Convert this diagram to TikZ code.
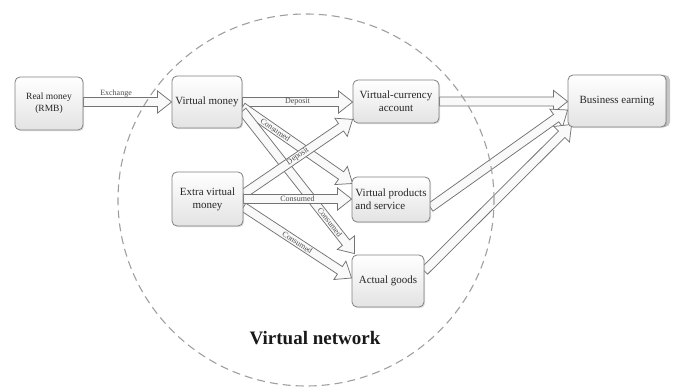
\documentclass[tikz,border=0pt]{standalone}
\usepackage{fontspec}
\setmainfont{Liberation Serif}
\usetikzlibrary{calc,shadows,backgrounds}
\newcommand\ashaft{4.5pt}
\newcommand\awing{11pt}
\newcommand\ahead{14pt}
\newcommand\blockarr[2]{%
  \filldraw[arrowbox] ($(#1)!\ashaft!90:(#2)$)
    -- ($(#2)!\ahead!(#1)!\ashaft!-90:(#1)$)
    -- ($(#2)!\ahead!(#1)!\awing!-90:(#1)$)
    -- (#2)
    -- ($(#2)!\ahead!(#1)!\awing!90:(#1)$)
    -- ($(#2)!\ahead!(#1)!\ashaft!90:(#1)$)
    -- ($(#1)!\ashaft!-90:(#2)$) -- cycle;}
\begin{document}
\begin{tikzpicture}[x=1pt,y=-1pt,
  box/.style={draw=gray, line width=0.8pt, rounded corners=5pt,
    top color=white, bottom color=gray!22, text=black!85,
    font=\fontsize{11}{13}\selectfont, align=center, inner sep=1pt,
    drop shadow={shadow xshift=1.2pt, shadow yshift=-1.2pt, opacity=0.25}},
  arrowbox/.style={draw=black!55, fill=gray!5, line width=0.75pt, line join=miter},
  lbl/.style={font=\fontsize{8}{9}\selectfont, text=black!70, inner sep=0pt},
  ring/.style={draw=gray!75, line width=1.1pt, dash pattern=on 8pt off 5pt}]
\useasboundingbox (0,0) rectangle (673,387);
% nodes
\node[box, minimum width=68pt, minimum height=53pt, font=\fontsize{9.5}{12}\selectfont] (rmb) at (49,103.5) {Real money\\(RMB)};
\node[box, minimum width=70pt, minimum height=52pt] (vm) at (207,102) {Virtual money};
\node[box, minimum width=86pt, minimum height=43pt] (vca) at (396,101.5) {Virtual-currency\\account};
\node[box, minimum width=71pt, minimum height=54pt] (evm) at (207.5,199) {Extra virtual\\money};
\node[box, minimum width=78pt, minimum height=45pt, align=left] (vps) at (391,199.5) {Virtual products\\and service};
\node[box, minimum width=72pt, minimum height=52pt] (ag) at (388,281) {Actual goods};
\node[box, minimum width=98pt, minimum height=52pt,
  drop shadow={shadow xshift=4pt, shadow yshift=0pt, opacity=0.45}] (be) at (617,101) {Business earning};
\node[font=\fontsize{19}{21}\selectfont\bfseries, text=black!90, anchor=base] (vn) at (315,345) {Virtual network};
% connector ends
\coordinate (t1) at (rmb.east |- vm.west);  \coordinate (h1) at (vm.west);
\coordinate (t2) at (vm.east);              \coordinate (h2) at (vm.east -| vca.west);
\coordinate (t3) at (vca.east);             \coordinate (h3) at (vca.east -| be.west);
\coordinate (t4) at (evm.east);             \coordinate (h4) at (evm.east -| vps.west);
\coordinate (t5) at ($(vm.east)+(0,5)$);    \coordinate (h5) at ($(vps.west)+(1,-16)$);
\coordinate (t6) at ($(vm.east)+(0,9)$);    \coordinate (h6) at ($(ag.north west)+(3,-1)$);
\coordinate (t7) at ($(evm.east)+(0,-5)$);  \coordinate (h7) at ($(vca.south west)+(0,-4)$);
\coordinate (t8) at ($(evm.east)+(0,8)$);   \coordinate (h8) at ($(ag.west)+(0,-3)$);
\coordinate (t9) at ($(vps.east)+(0,8)$);   \coordinate (h9) at ($(be.west)+(0,9)$);
\coordinate (t10) at ($(ag.east)+(0,-10)$); \coordinate (h10) at ($(be.south west)+(4,-3)$);
\begin{scope}[on background layer]
  \blockarr{t1}{h1}
  \blockarr{t2}{h2}
  \blockarr{t3}{h3}
  \blockarr{t5}{h5}
  \blockarr{t6}{h6}
  \blockarr{t7}{h7}
  \blockarr{t4}{h4}
  \blockarr{t8}{h8}
  \blockarr{t9}{h9}
  \blockarr{t10}{h10}
  \path (t1) -- (h1) node[lbl, pos=.37, above=4.5pt] {Exchange};
  \path (t2) -- (h2) node[lbl, pos=.5, sloped] {Deposit};
  \path (t5) -- (h5) node[lbl, pos=.3, sloped] {Consumed};
  \path (t6) -- (h6) node[lbl, pos=.78, sloped] {Consumed};
  \path (t7) -- (h7) node[lbl, pos=.5, sloped] {Deposit};
  \path (t4) -- (h4) node[lbl, pos=.5, sloped] {Consumed};
  \path (t8) -- (h8) node[lbl, pos=.5, sloped] {Consumed};
  \path[ring] (306,200) ellipse [x radius=188pt, y radius=186pt];
\end{scope}
\end{tikzpicture}
\end{document}
